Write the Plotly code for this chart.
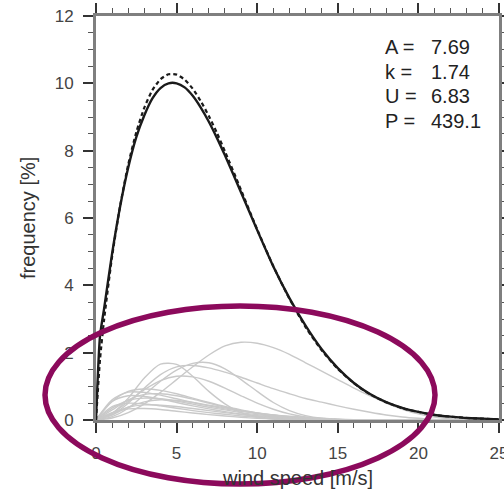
import plotly.graph_objects as go

# ---- data ----
x_black = [0, 0.25, 0.5, 1, 1.5, 2, 2.5, 3, 3.5, 4, 4.5, 5, 5.5, 6, 6.5, 7, 7.5, 8,
           9, 10, 11, 12, 13, 14, 15, 16, 17, 18, 19, 20, 21, 22, 23, 24, 25]
freq_observed = [0, 2.5, 3.3, 4.95, 6.35, 7.5, 8.4, 9.05, 9.55, 9.86, 10.0, 10.0, 9.88, 9.63,
                 9.28, 8.86, 8.38, 7.86, 6.76, 5.64, 4.56, 3.62, 2.8, 2.1, 1.54, 1.1, 0.77,
                 0.53, 0.36, 0.24, 0.15, 0.1, 0.06, 0.04, 0.02]
freq_weibull = [0, 1.8, 2.97, 4.86, 6.37, 7.59, 8.55, 9.28, 9.8, 10.12, 10.27, 10.26, 10.11,
                9.84, 9.47, 9.03, 8.53, 7.98, 6.83, 5.66, 4.57, 3.6, 2.76, 2.07, 1.52, 1.09,
                0.76, 0.53, 0.35, 0.24, 0.15, 0.1, 0.06, 0.04, 0.02]

x_sector = list(range(0, 26))
sector_01 = [0, 0.06, 0.22, 0.48, 0.82, 1.2, 1.58, 1.93, 2.2, 2.31, 2.28, 2.15, 1.95, 1.7, 1.45,
             1.2, 0.95, 0.72, 0.5, 0.32, 0.18, 0.09, 0.04, 0.02, 0.01, 0]
sector_02 = [0, 0.2, 0.65, 1.25, 1.66, 1.65, 1.3, 0.85, 0.48, 0.22, 0.09, 0.03, 0.01, 0, 0,
             0, 0, 0, 0, 0, 0, 0, 0, 0, 0, 0]
sector_03 = [0, 0.1, 0.35, 0.75, 1.15, 1.48, 1.68, 1.7, 1.52, 1.2, 0.85, 0.52, 0.28, 0.13, 0.05,
             0.02, 0, 0, 0, 0, 0, 0, 0, 0, 0, 0]
sector_04 = [0, 0.15, 0.5, 0.95, 1.35, 1.58, 1.62, 1.55, 1.42, 1.27, 1.1, 0.93, 0.78, 0.64, 0.53,
             0.42, 0.32, 0.23, 0.15, 0.09, 0.05, 0.02, 0, 0, 0, 0]
sector_05 = [0, 0.2, 0.55, 0.9, 1.17, 1.3, 1.28, 1.15, 0.95, 0.72, 0.5, 0.32, 0.18, 0.09, 0.04,
             0.01, 0, 0, 0, 0, 0, 0, 0, 0, 0, 0]
sector_06 = [0, 0.55, 0.85, 0.92, 0.88, 0.78, 0.65, 0.52, 0.4, 0.3, 0.21, 0.14, 0.09, 0.05, 0.03,
             0.01, 0, 0, 0, 0, 0, 0, 0, 0, 0, 0]
sector_07 = [0, 0.6, 0.83, 0.82, 0.74, 0.63, 0.52, 0.42, 0.33, 0.26, 0.2, 0.15, 0.11, 0.08, 0.05,
             0.03, 0.01, 0, 0, 0, 0, 0, 0, 0, 0, 0]
sector_08 = [0, 0.3, 0.6, 0.76, 0.78, 0.72, 0.62, 0.5, 0.38, 0.28, 0.19, 0.12, 0.07, 0.04, 0.02,
             0, 0, 0, 0, 0, 0, 0, 0, 0, 0, 0]
sector_09 = [0, 0.55, 0.72, 0.7, 0.62, 0.52, 0.42, 0.33, 0.25, 0.18, 0.13, 0.09, 0.06, 0.04, 0.02,
             0, 0, 0, 0, 0, 0, 0, 0, 0, 0, 0]
sector_10 = [0, 0.35, 0.58, 0.65, 0.63, 0.56, 0.47, 0.38, 0.3, 0.22, 0.16, 0.11, 0.07, 0.04, 0.02,
             0, 0, 0, 0, 0, 0, 0, 0, 0, 0, 0]
sector_11 = [0, 0.15, 0.38, 0.54, 0.6, 0.58, 0.52, 0.44, 0.36, 0.28, 0.21, 0.15, 0.1, 0.06, 0.03,
             0.01, 0, 0, 0, 0, 0, 0, 0, 0, 0, 0]
sector_12 = [0, 0.4, 0.5, 0.48, 0.42, 0.35, 0.28, 0.22, 0.17, 0.12, 0.08, 0.05, 0.03, 0, 0,
             0, 0, 0, 0, 0, 0, 0, 0, 0, 0, 0]
sector_13 = [0, 0.2, 0.38, 0.45, 0.44, 0.4, 0.34, 0.28, 0.22, 0.16, 0.11, 0.07, 0.04, 0.02, 0,
             0, 0, 0, 0, 0, 0, 0, 0, 0, 0, 0]
sector_14 = [0, 0.22, 0.33, 0.34, 0.31, 0.26, 0.21, 0.16, 0.12, 0.08, 0.05, 0.03, 0, 0, 0,
             0, 0, 0, 0, 0, 0, 0, 0, 0, 0, 0]
sectors = [sector_01, sector_02, sector_03, sector_04, sector_05, sector_06, sector_07,
           sector_08, sector_09, sector_10, sector_11, sector_12, sector_13, sector_14]

param_names = ["A =", "k =", "U =", "P ="]
param_values = ["7.69", "1.74", "6.83", "439.1"]

x_ticks = [0, 5, 10, 15, 20, 25]
y_ticks = [0, 2, 4, 6, 8, 10, 12]

# ---- figure ----
FONT = "Liberation Sans, Arial, Helvetica, sans-serif"
fig = go.Figure()

for s in sectors:
    fig.add_trace(go.Scatter(x=x_sector, y=s, mode="lines",
                             line=dict(color="#c9c9c9", width=1.4, shape="spline", smoothing=0.8),
                             hoverinfo="skip", showlegend=False))

fig.add_trace(go.Scatter(x=x_black, y=freq_weibull, mode="lines",
                         line=dict(color="#1a1a1a", width=2.2, dash="4px,3px", shape="spline", smoothing=0.6),
                         showlegend=False))
fig.add_trace(go.Scatter(x=x_black, y=freq_observed, mode="lines",
                         line=dict(color="#1a1a1a", width=2.4, shape="spline", smoothing=0.6),
                         showlegend=False))

axis_common = dict(
    showgrid=False, zeroline=False, showline=True, linecolor="#7f7f7f", linewidth=3,
    mirror="allticks", ticks="outside", ticklen=10, tickwidth=1.5, tickcolor="#333333",
    tickfont=dict(family=FONT, size=17, color="#444444"), automargin=False,
    ticklabeloverflow="allow",
    minor=dict(ticks="outside", ticklen=5, tickwidth=1.2, tickcolor="#555555"),
)

fig.update_xaxes(range=[0, 25], tickvals=x_ticks, ticklabelstandoff=6, **axis_common)
fig.update_yaxes(range=[0, 12], tickvals=y_ticks, ticklabelstandoff=6, **axis_common)
fig.update_xaxes(minor_dtick=1, minor_tick0=0)
fig.update_yaxes(minor_dtick=0.5, minor_tick0=0)

annotations = []
for i, (n, v) in enumerate(zip(param_names, param_values)):
    yp = (420 - (47 + 24.5 * i)) / 404
    annotations.append(dict(x=(383 - 96) / 403, y=yp, xref="paper", yref="paper",
                            text=n, showarrow=False, xanchor="left", yanchor="middle",
                            font=dict(family=FONT, size=20, color="#222222")))
    annotations.append(dict(x=(429 - 96) / 403, y=yp, xref="paper", yref="paper",
                            text=v, showarrow=False, xanchor="left", yanchor="middle",
                            font=dict(family=FONT, size=20, color="#222222")))
annotations.append(dict(x=(297 - 96) / 403, y=(420 - 478) / 404, xref="paper", yref="paper",
                        text="wind speed [m/s]", showarrow=False, xanchor="center", yanchor="middle",
                        font=dict(family=FONT, size=20, color="#333333")))
annotations.append(dict(x=(28 - 96) / 403, y=(420 - 218) / 404, xref="paper", yref="paper",
                        text="frequency [%]", showarrow=False, xanchor="center", yanchor="middle",
                        textangle=-90, font=dict(family=FONT, size=20, color="#333333")))

fig.update_layout(
    width=504, height=494,
    margin=dict(l=96, r=5, t=16, b=74, autoexpand=False),
    paper_bgcolor="white", plot_bgcolor="white",
    annotations=annotations,
    shapes=[dict(type="circle", xref="paper", yref="paper",
                 x0=(45 - 96) / 403, x1=(435 - 96) / 403,
                 y0=(420 - 484) / 404, y1=(420 - 306) / 404,
                 line=dict(color="#8c0a5c", width=5.5), layer="above")],
)

fig.write_html("out.html")
